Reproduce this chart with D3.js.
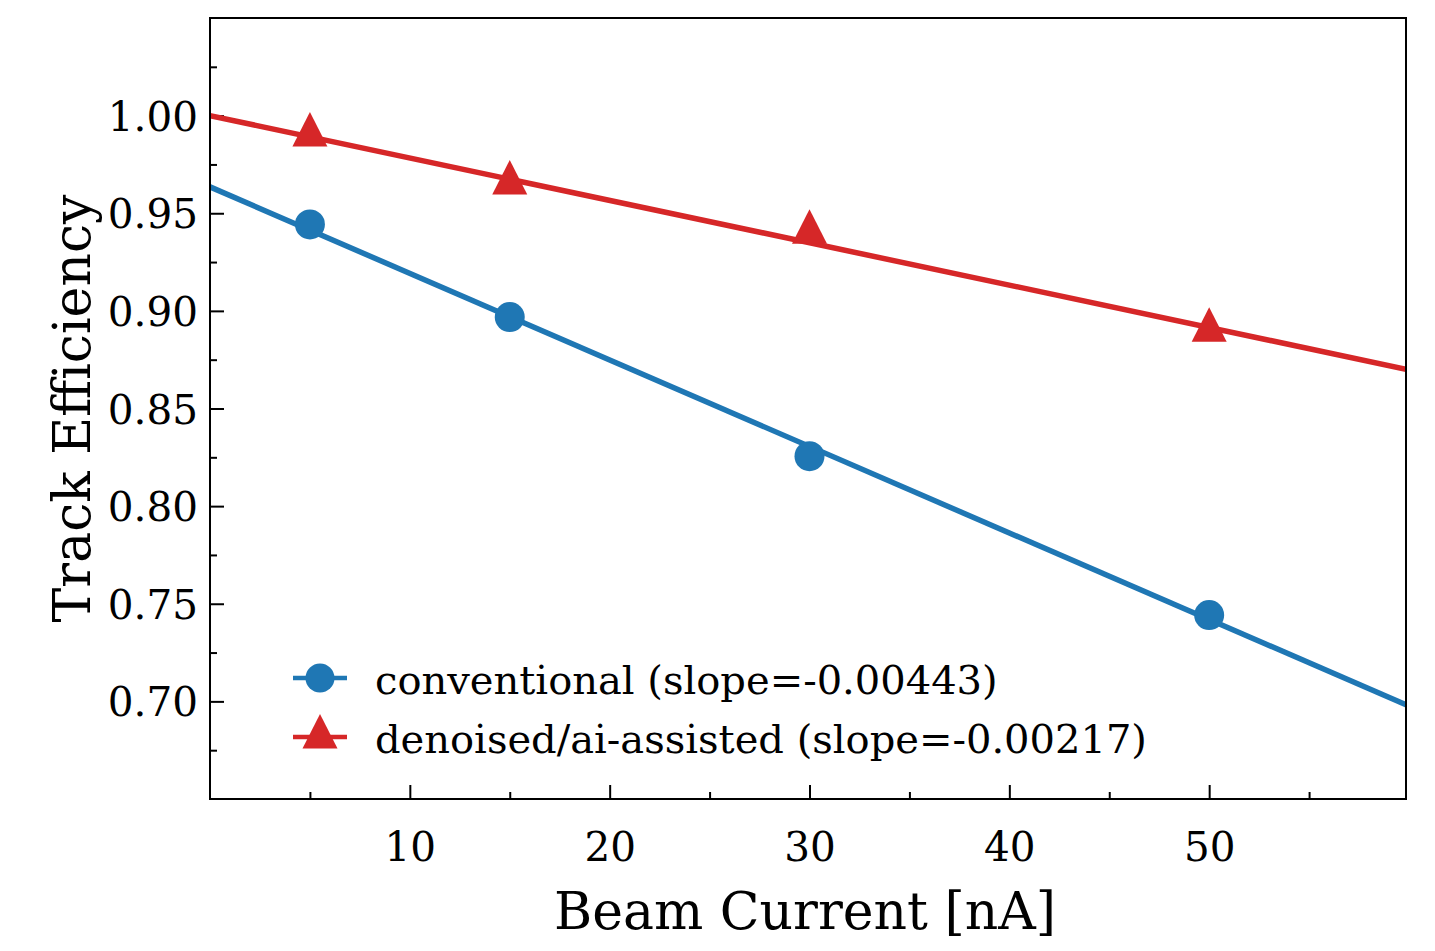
<!DOCTYPE html>
<html>
<head>
<meta charset="utf-8">
<script src="https://cdn.jsdelivr.net/npm/d3@7"></script>
<style>
  html, body { margin: 0; padding: 0; background: #fff; }
  svg { display: block; }
  text { font-family: "DejaVu Serif", serif; fill: #000; }
</style>
</head>
<body>
<svg id="chart" width="1435" height="951"></svg>
<script>
// ---- data ----
const beamCurrent = [5, 15, 30, 50];
const conventional = [0.9443, 0.8968, 0.8256, 0.7442];
const denoised = [0.9901, 0.9655, 0.9403, 0.8901];
const fitX = [0, 59.85];
const conventionalFit = [0.9635, 0.6983];
const denoisedFit = [1.0000, 0.8701];
const seriesNames = ["conventional", "denoised/ai-assisted"];
const slopes = ["-0.00443", "-0.00217"];
const xTickValues = [10, 20, 30, 40, 50];
const xMinorTicks = [5, 15, 25, 35, 45, 55];
const yTickValues = [0.70, 0.75, 0.80, 0.85, 0.90, 0.95, 1.00];
const yMinorTicks = [0.675, 0.725, 0.775, 0.825, 0.875, 0.925, 0.975, 1.025];
const xLabel = "Beam Current [nA]";
const yLabel = "Track Efficiency";

// ---- layout ----
const L = 210, R = 1406, T = 18, B = 799;
const blue = "#1f77b4", red = "#d62728";

const svg = d3.select("#chart");
const x = d3.scaleLinear().domain([0, 59.85]).range([L, R]);
const y = d3.scaleLinear().domain([0.65, 1.05]).range([B, T]);

svg.append("defs").append("clipPath").attr("id", "plotclip")
  .append("rect").attr("x", L).attr("y", T).attr("width", R - L).attr("height", B - T);

// axes (ticks inward)
const tickFont = 40.5;
const xAxis = d3.axisBottom(x).tickValues(xTickValues).tickFormat(d3.format("d"))
  .tickSizeInner(-14).tickSizeOuter(0).tickPadding(0);
const gx = svg.append("g").attr("transform", `translate(0,${B})`).call(xAxis);
gx.select(".domain").remove();
gx.selectAll(".tick line").attr("stroke", "#000").attr("stroke-width", 2);
gx.selectAll(".tick text").attr("y", 62).attr("dy", null)
  .style("font-family", "DejaVu Serif").style("font-size", tickFont + "px");

const gxm = svg.append("g").attr("transform", `translate(0,${B})`)
  .call(d3.axisBottom(x).tickValues(xMinorTicks).tickFormat("").tickSizeInner(-7).tickSizeOuter(0));
gxm.select(".domain").remove();
gxm.selectAll(".tick line").attr("stroke", "#000").attr("stroke-width", 2);

const yAxis = d3.axisLeft(y).tickValues(yTickValues).tickFormat(d3.format(".2f"))
  .tickSizeInner(-14).tickSizeOuter(0).tickPadding(0);
const gy = svg.append("g").attr("transform", `translate(${L},0)`).call(yAxis);
gy.select(".domain").remove();
gy.selectAll(".tick line").attr("stroke", "#000").attr("stroke-width", 2);
gy.selectAll(".tick text").attr("x", -12).attr("dy", "0.36em")
  .style("font-family", "DejaVu Serif").style("font-size", tickFont + "px");

const gym = svg.append("g").attr("transform", `translate(${L},0)`)
  .call(d3.axisLeft(y).tickValues(yMinorTicks).tickFormat("").tickSizeInner(-7).tickSizeOuter(0));
gym.select(".domain").remove();
gym.selectAll(".tick line").attr("stroke", "#000").attr("stroke-width", 2);

// fit lines
const line = d3.line().x(d => x(d[0])).y(d => y(d[1]));
const plot = svg.append("g").attr("clip-path", "url(#plotclip)");
plot.append("path").datum(fitX.map((v, i) => [v, conventionalFit[i]]))
  .attr("d", line).attr("fill", "none").attr("stroke", blue).attr("stroke-width", 5.5);
plot.append("path").datum(fitX.map((v, i) => [v, denoisedFit[i]]))
  .attr("d", line).attr("fill", "none").attr("stroke", red).attr("stroke-width", 5.5);

// markers
const triW = 35, triH = 34.5;
function triPath(cx, cy) {
  return `M${cx},${cy - 2 * triH / 3}L${cx + triW / 2},${cy + triH / 3}L${cx - triW / 2},${cy + triH / 3}Z`;
}
svg.append("g").selectAll("circle").data(beamCurrent.map((v, i) => [v, conventional[i]]))
  .join("circle").attr("cx", d => x(d[0])).attr("cy", d => y(d[1])).attr("r", 15).attr("fill", blue);
svg.append("g").selectAll("path").data(beamCurrent.map((v, i) => [v, denoised[i]]))
  .join("path").attr("d", d => triPath(x(d[0]), y(d[1]))).attr("fill", red);

// frame
svg.append("rect").attr("x", L).attr("y", T).attr("width", R - L).attr("height", B - T)
  .attr("fill", "none").attr("stroke", "#000").attr("stroke-width", 2);

// axis labels
svg.append("text").attr("x", 805).attr("y", 929).attr("text-anchor", "middle")
  .style("font-size", "52px").text(xLabel);
svg.append("text").attr("transform", `translate(90,${(T + B) / 2}) rotate(-90)`)
  .attr("text-anchor", "middle").style("font-size", "52px").text(yLabel);

// legend
const legendRows = [678, 737];
const lg = svg.append("g");
seriesNames.forEach((name, i) => {
  const cy = legendRows[i];
  const col = i === 0 ? blue : red;
  lg.append("line").attr("x1", 293).attr("x2", 347).attr("y1", cy).attr("y2", cy)
    .attr("stroke", col).attr("stroke-width", 4.5);
  if (i === 0) {
    lg.append("circle").attr("cx", 320).attr("cy", cy).attr("r", 14.5).attr("fill", col);
  } else {
    lg.append("path").attr("d", triPath(320, cy)).attr("fill", col);
  }
  lg.append("text").attr("x", 375).attr("y", cy + 16).style("font-size", "40px")
    .text(`${name} (slope=${slopes[i]})`);
});
</script>
</body>
</html>
